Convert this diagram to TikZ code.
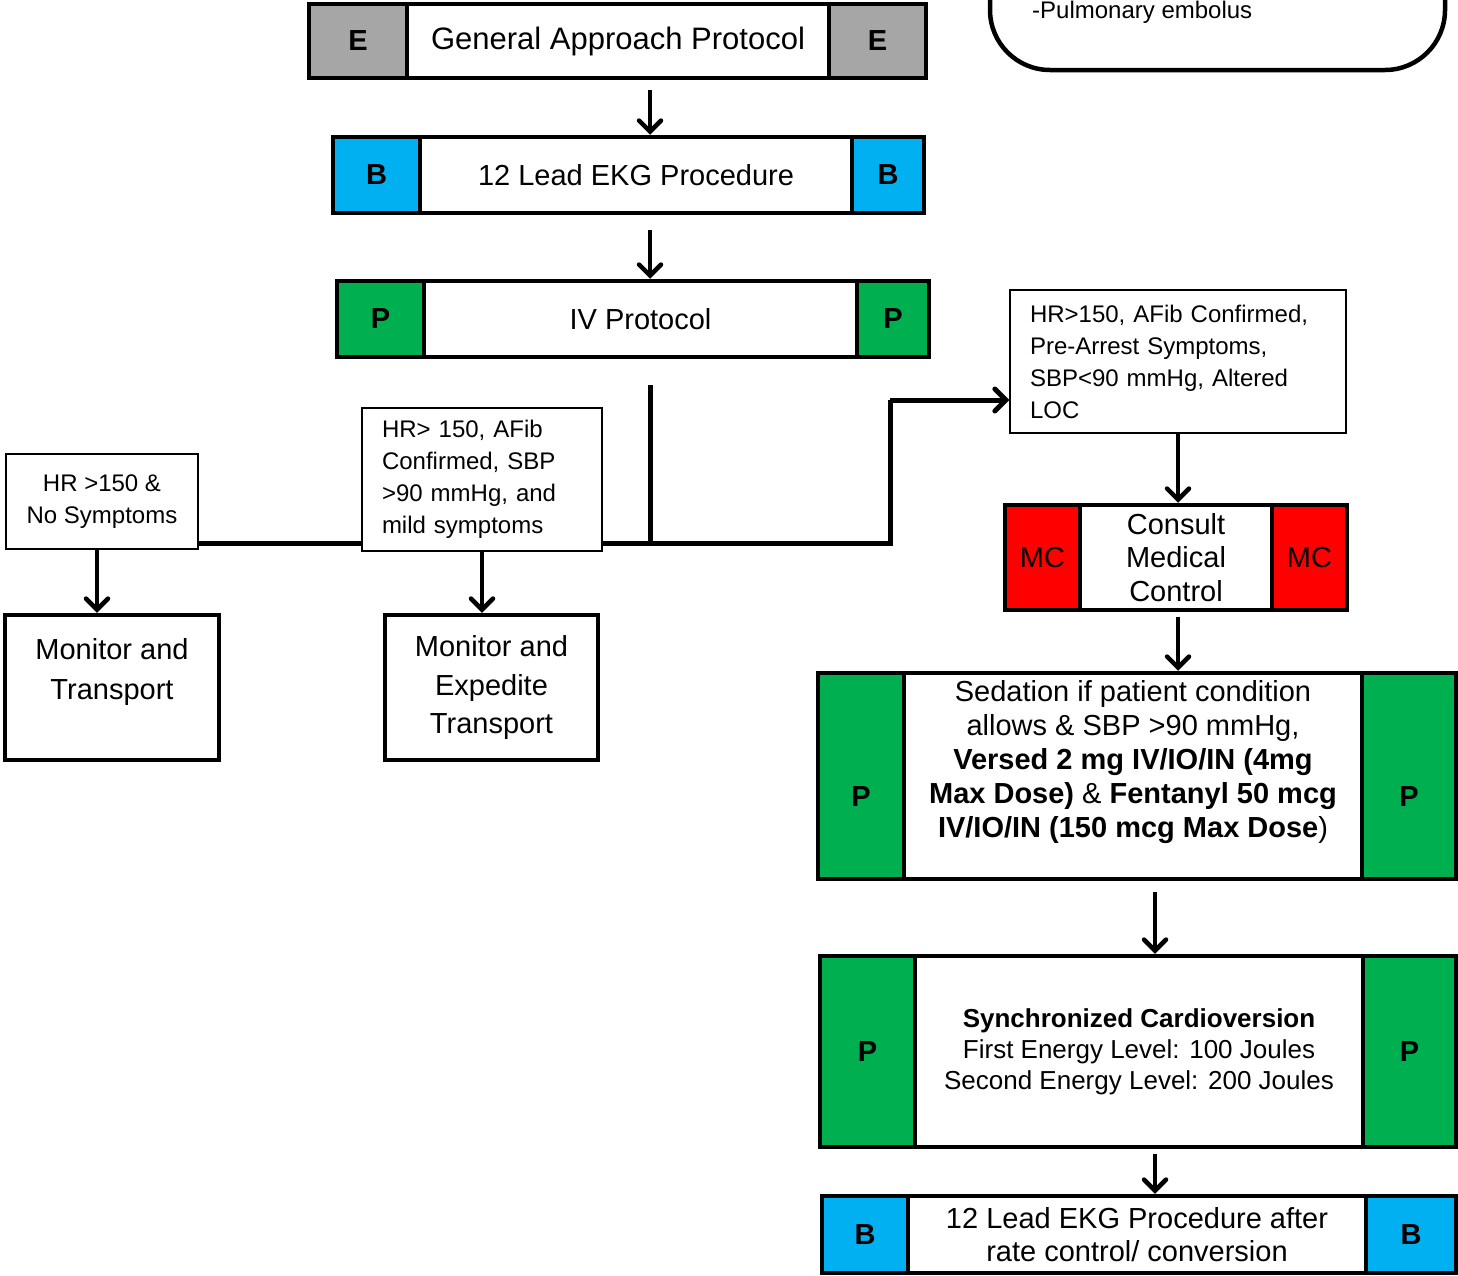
\documentclass[tikz,border=0pt]{standalone}
\usepackage{fontspec}
\setmainfont{Liberation Sans}
\usetikzlibrary{arrows.meta}
\definecolor{egray}{HTML}{A6A6A6}
\definecolor{bblue}{HTML}{00B0F0}
\definecolor{pgreen}{HTML}{00B050}
\definecolor{mred}{HTML}{FF0000}
\newcommand{\fsz}[2]{\fontsize{#1}{#2}\selectfont}
\begin{document}
\begin{tikzpicture}[x=1pt,y=-1pt,
  cell/.style={draw, line width=4.5pt, inner sep=0pt, align=center},
  thinbox/.style={draw, line width=1.2pt, inner sep=0pt},
  lbl/.style={font=\bfseries\fsz{29}{34}},
  conn/.style={line width=5pt},
  arr/.style={line width=4.5pt, -{Straight Barb[length=11pt,width=22pt,line cap=round]}},
]
\useasboundingbox (0,0) rectangle (1458,1275);
\fill[white] (0,0) rectangle (1458,1275);
\clip (0,0) rectangle (1458,1275);

% note box (top right, cut off)
\node[draw, line width=4.5pt, rounded corners=60pt, minimum width=455, minimum height=270] (note) at (1217.5,-65) {};
\node[anchor=west, inner sep=0pt, font=\fsz{24}{28}] (pe) at (1032,12) {-Pulmonary embolus};

% E box
\node[cell, fill=egray, minimum width=98, minimum height=74, lbl] (E-l) at (358,41) {E};
\node[cell, fill=white, minimum width=422, minimum height=74, font=\fsz{31}{36}] (E-m) at (618,41) {General Approach Protocol};
\node[cell, fill=egray, minimum width=97, minimum height=74, lbl] (E-r) at (877.5,41) {E};

% B box
\node[cell, fill=bblue, minimum width=87, minimum height=76, lbl] (B-l) at (376.5,175) {B};
\node[cell, fill=white, minimum width=432, minimum height=76, font=\fsz{29}{34}] (B-m) at (636,175) {12 Lead EKG Procedure};
\node[cell, fill=bblue, minimum width=72, minimum height=76, lbl] (B-r) at (888,175) {B};

% P box
\node[cell, fill=pgreen, minimum width=87, minimum height=76, lbl] (P-l) at (380.5,319) {P};
\node[cell, fill=white, minimum width=433, minimum height=76, font=\fsz{29}{34}] (P-m) at (640.5,319) {IV Protocol};
\node[cell, fill=pgreen, minimum width=72, minimum height=76, lbl] (P-r) at (893,319) {P};

% condition boxes
\node[thinbox, fill=white, minimum width=192, minimum height=95, align=center, font=\fsz{24}{32}] (H1) at (102,501.5) {HR >150 \&\\No Symptoms};
\node[thinbox, fill=white, minimum width=240, minimum height=143, text width=200, align=left, font=\fsz{24}{32}] (H2) at (482,479.5) {HR> 150, AFib\\Confirmed, SBP\\>90 mmHg, and\\mild symptoms};
\node[thinbox, fill=white, minimum width=336, minimum height=143, text width=296, align=left, font=\fsz{24}{32}] (H3) at (1178,361.5) {HR>150, AFib Confirmed,\\Pre-Arrest Symptoms,\\SBP<90 mmHg, Altered\\LOC};

% monitor boxes
\node[cell, minimum width=214, minimum height=145] (M1) at (112,687.5) {};
\node[align=center, inner sep=0pt, font=\fsz{29}{40}] (M1t) at (112,672) {Monitor and\\Transport};
\node[cell, minimum width=213, minimum height=145, font=\fsz{29}{38.5}] (M2) at (491.5,687.5) {Monitor and\\Expedite\\Transport};

% MC box
\node[cell, fill=mred, minimum width=75, minimum height=105, font=\fsz{29}{34}] (MC-l) at (1042.5,557.5) {MC};
\node[cell, fill=white, minimum width=192, minimum height=105, font=\fsz{29}{33.5}] (MC-m) at (1176,557.5) {Consult\\Medical\\Control};
\node[cell, fill=mred, minimum width=75, minimum height=105, font=\fsz{29}{34}] (MC-r) at (1309.5,557.5) {MC};

% Sedation box
\node[cell, fill=pgreen, minimum width=86, minimum height=206, lbl, text height=60pt, text depth=0pt] (S-l) at (861,776) {P};
\node[cell, fill=white, minimum width=458, minimum height=206] (S-m) at (1133,776) {};
\node[align=center, inner sep=0pt, font=\fsz{29}{34}] (S-t) at (1133,762) {Sedation if patient condition\\allows \& SBP >90 mmHg,\\\textbf{Versed 2 mg IV/IO/IN (4mg}\\\textbf{Max Dose)} \& \textbf{Fentanyl 50 mcg}\\\textbf{IV/IO/IN (150 mcg Max Dose})};
\node[cell, fill=pgreen, minimum width=94, minimum height=206, lbl, text height=60pt, text depth=0pt] (S-r) at (1409,776) {P};

% Synchronized cardioversion box
\node[cell, fill=pgreen, minimum width=95, minimum height=191, lbl] (Y-l) at (867.5,1051.5) {P};
\node[cell, fill=white, minimum width=448, minimum height=191, font=\fsz{26}{31}] (Y-m) at (1139,1051.5) {\textbf{Synchronized Cardioversion}\\First Energy Level: 100 Joules\\Second Energy Level: 200 Joules};
\node[cell, fill=pgreen, minimum width=93, minimum height=191, lbl] (Y-r) at (1409.5,1051.5) {P};

% last B box
\node[cell, fill=bblue, minimum width=86, minimum height=77, lbl] (L-l) at (865,1234.5) {B};
\node[cell, fill=white, minimum width=458, minimum height=77, font=\fsz{29}{33}] (L-m) at (1137,1234.5) {12 Lead EKG Procedure after\\rate control/ conversion};
\node[cell, fill=bblue, minimum width=90, minimum height=77, lbl] (L-r) at (1411,1234.5) {B};

% helper coordinates
\coordinate (xa) at (650,0);
\coordinate (xb) at (97,0);
\coordinate (xc) at (1178,0);
\coordinate (xd) at (1155,0);
\coordinate (j) at (650,543);
\coordinate (k) at (890,543);
\coordinate (m) at (890,400);

% connectors
\draw[arr, shorten <=10pt] (E-m.south -| xa) -- (B-m.north -| xa);
\draw[arr, shorten <=15pt] (B-m.south -| xa) -- (P-m.north -| xa);
\draw[conn, shorten <=26pt] (P-m.south -| xa) -- (j);
\draw[conn] (H1.east |- j) -- (H2.west |- j);
\draw[conn] (H2.east |- j) -- (k) -- (m);
\draw[arr, line width=5pt] (m) -- (H3.west |- m);
\draw[arr] (H1.south -| xb) -- (M1.north -| xb);
\draw[arr] (H2.south) -- (H2.south |- M2.north);
\draw[arr] (H3.south) -- (MC-m.north -| xc);
\draw[arr, shorten <=5pt] (MC-m.south -| xc) -- (S-m.north -| xc);
\draw[arr, shorten <=11pt] (S-m.south -| xd) -- (Y-m.north -| xd);
\draw[arr, shorten <=5pt] (Y-m.south -| xd) -- (L-m.north -| xd);
\end{tikzpicture}
\end{document}
